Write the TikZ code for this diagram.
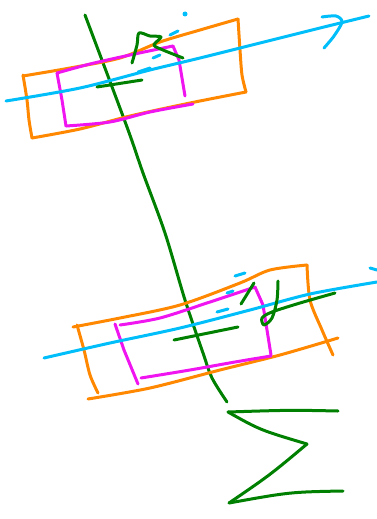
\documentclass[tikz,border=0pt]{standalone}
\definecolor{penorange}{RGB}{255,136,0}
\definecolor{penmagenta}{RGB}{240,20,240}
\definecolor{penblue}{RGB}{0,190,250}
\definecolor{pengreen}{RGB}{0,128,0}
\tikzset{
  pen/.style={line width=3pt, line cap=round, line join=round},
  frame/.style={pen, penorange},
  inner/.style={pen, penmagenta},
  ray/.style={pen, penblue},
  axis/.style={pen, pengreen}
}
\begin{document}
\begin{tikzpicture}[x=1pt, y=-1pt]
  \useasboundingbox (0,0) rectangle (377,519);

  % long green axis
  \draw[axis] plot[smooth] coordinates {(85,15) (127,127) (143,173) (165,233) (185,300) (203,353) (212,378) (227,402)};

  % top block
  \draw[frame] plot[smooth] coordinates {(23,76) (70,68) (120,58) (160,42) (200,30) (238,19)};
  \draw[frame] plot[smooth] coordinates {(238,19) (240,50) (242,75) (246,92)};
  \draw[frame] plot[smooth] coordinates {(32,138) (80,129) (130,116) (190,103) (246,92)};
  \draw[frame] plot[smooth] coordinates {(23,75) (27,100) (29,120) (32,138)};
  \draw[inner] plot[smooth] coordinates {(57,73) (90,64) (130,55) (173,46)};
  \draw[inner] (173,46) -- (179,60) -- (185,96);
  \draw[inner] plot[smooth] coordinates {(66,126) (110,122) (150,112) (193,104)};
  \draw[inner] (57,73) -- (62,100) -- (66,126);
  \draw[ray] plot[smooth] coordinates {(6,101) (80,88) (150,70) (200,58) (260,43) (320,28) (369,16)};
  \draw[ray] plot[smooth] coordinates {(322,17) (336,16) (342,22) (334,36) (324,48)};
  \draw[axis] plot[smooth] coordinates {(132,63) (137,45) (139,33) (150,36) (161,37) (154,45) (163,50) (183,58)};
  \draw[axis] (97,87) -- (142,80);
  \fill[penblue] (185,14) circle (2.5pt);
  \draw[ray] (170,35) -- (178,31);
  \draw[ray] (153,58) -- (160,55);
  \draw[ray] (138,72) -- (150,68);

  % bottom block
  \draw[frame] plot[smooth] coordinates {(73,327) (120,318) (180,305) (240,283) (270,270) (307,265)};
  \draw[frame] plot[smooth] coordinates {(307,265) (310,300) (322,330) (333,355)};
  \draw[frame] plot[smooth] coordinates {(88,399) (150,388) (220,370) (280,355) (338,338)};
  \draw[frame] plot[smooth] coordinates {(77,325) (84,350) (90,375) (98,393)};
  \draw[inner] plot[smooth] coordinates {(120,325) (160,318) (210,302) (255,287)};
  \draw[inner] (255,287) -- (263,305) -- (271,355);
  \draw[inner] plot[smooth] coordinates {(141,378) (190,370) (235,362) (271,356)};
  \draw[inner] (115,324) -- (124,350) -- (138,384);
  \draw[ray] plot[smooth] coordinates {(44,358) (110,343) (180,328) (250,310) (310,294) (377,282)};
  \draw[ray] (370,268) -- (377,270);
  \draw[axis] (241,304) -- (254,283);
  \draw[axis] plot[smooth] coordinates {(278,281) (277,300) (272,318) (264,325) (262,318) (272,312) (300,303) (335,293)};
  \draw[axis] (174,340) -- (238,327);
  \draw[ray] (235,276) -- (245,273);
  \draw[ray] (227,293) -- (233,291);
  \draw[ray] (217,312) -- (228,309);

  % sigma
  \draw[axis] (338,411) .. controls (290,410) .. (228,412);
  \draw[axis] (228,412) .. controls (260,430) .. (307,444);
  \draw[axis] (307,444) .. controls (270,475) .. (229,503);
  \draw[axis] (229,503) .. controls (290,492) .. (343,491);
\end{tikzpicture}
\end{document}
